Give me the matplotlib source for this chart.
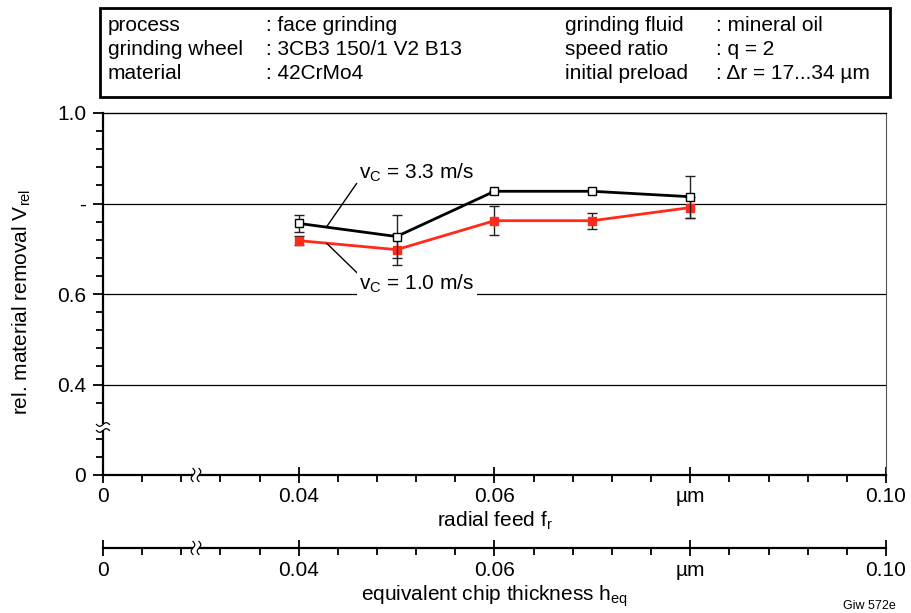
import numpy as np
import matplotlib
matplotlib.use('Agg')
import matplotlib.pyplot as plt
from matplotlib.patches import Rectangle
from matplotlib.transforms import ScaledTranslation, blended_transform_factory

plt.rcParams['font.family'] = ['Liberation Sans', 'DejaVu Sans']
plt.rcParams['mathtext.fontset'] = 'custom'
plt.rcParams['mathtext.rm'] = 'Liberation Sans'
plt.rcParams['mathtext.it'] = 'Liberation Sans'

# data (axis value 0.02 on x is drawn as "0", 0.2 on y is drawn as "0" -> broken axes)
feed = [0.04, 0.05, 0.06, 0.07, 0.08]
v_fast = [0.756, 0.727, 0.827, 0.827, 0.815]
v_fast_err = [0.019, 0.048, 0.0, 0.0, 0.046]
v_slow = [0.718, 0.698, 0.762, 0.762, 0.791]
v_slow_err = [0.010, 0.035, 0.032, 0.018, 0.024]

x_ticks = [0.02, 0.04, 0.06, 0.08, 0.10]
x_labels = ['0', '0.04', '0.06', 'µm', '0.10']
y_ticks = [0.2, 0.4, 0.6, 0.8, 1.0]
y_labels = ['0', '0.4', '0.6', '-', '1.0']

header_left = [('process', ': face grinding'),
               ('grinding wheel', ': 3CB3 150/1 V2 B13'),
               ('material', ': 42CrMo4')]
header_right = [('grinding fluid', ': mineral oil'),
                ('speed ratio', ': q = 2'),
                ('initial preload', ': \u0394r = 17...34 µm')]

FS = 15
W, H = 912, 613
fig = plt.figure(figsize=(W / 100, H / 100), dpi=100)

L, R, T, B = 103, 886, 113, 475
ax = fig.add_axes([L / W, 1 - B / H, (R - L) / W, (B - T) / H])
ax.set_xlim(0.02, 0.10)
ax.set_ylim(0.2, 1.0)

red = '#ff2a1a'
for yv in [0.4, 0.6, 0.8]:
    ax.axhline(yv, color='black', lw=0.9, zorder=1)

ax.errorbar(feed, v_slow, yerr=v_slow_err, color=red, lw=2, marker='s', ms=6,
            mfc=red, mec=red, ecolor='#222222', elinewidth=1, capsize=3.5,
            capthick=1, zorder=3)
ax.errorbar(feed, v_fast, yerr=v_fast_err, color='black', lw=2, marker='s', ms=6,
            mfc='white', mec='black', mew=1, ecolor='#222222', elinewidth=1,
            capsize=3.5, capthick=1, zorder=4)

ax.annotate(r'v$_\mathrm{C}$ = 3.3 m/s', xy=(0.04286, 0.749), xytext=(0.0462, 0.868),
            fontsize=FS, va='center', ha='left',
            arrowprops=dict(arrowstyle='-', color='black', lw=1,
                            shrinkA=0, shrinkB=0, relpos=(0, 0.2)),
            zorder=5)
ax.annotate(r'v$_\mathrm{C}$ = 1.0 m/s', xy=(0.04286, 0.712), xytext=(0.0462, 0.622),
            fontsize=FS, va='center', ha='left',
            bbox=dict(boxstyle='square,pad=0.1', fc='white', ec='none'),
            arrowprops=dict(arrowstyle='-', color='black', lw=1,
                            shrinkA=0, shrinkB=0, relpos=(0, 0.9)),
            zorder=5)

def style_axis(a):
    a.set_xticks(x_ticks)
    a.set_xticklabels(x_labels, fontsize=FS)
    a.set_xticks(np.arange(0.024, 0.0999, 0.004), minor=True)
    a.tick_params(axis='x', which='major', direction='inout', length=12, width=1.3, pad=3)
    a.tick_params(axis='x', which='minor', direction='out', length=5, width=1.3)
    a.spines['bottom'].set_linewidth(1.6)

style_axis(ax)
ax.set_yticks(y_ticks)
ax.set_yticklabels(y_labels, fontsize=FS)
ax.set_yticks([0.24, 0.28, 0.36, 0.44, 0.48, 0.52, 0.56, 0.64, 0.68, 0.72, 0.76,
               0.84, 0.88, 0.92, 0.96], minor=True)
ax.tick_params(axis='y', which='major', direction='out', length=7, width=1.3, pad=5)
ax.tick_params(axis='y', which='minor', direction='out', length=5, width=1.3)
ax.spines['left'].set_linewidth(1.6)
ax.spines['top'].set_linewidth(1.0)
ax.spines['right'].set_linewidth(0.8)
ax.spines['right'].set_color('#555555')
ax.set_xlabel(r'radial feed f$_\mathrm{r}$', fontsize=FS)
ax.xaxis.set_label_coords(0.5, 1 - 510 / H,
                          transform=blended_transform_factory(ax.transAxes, fig.transFigure))
ax.set_ylabel(r'rel. material removal V$_\mathrm{rel}$', fontsize=FS)
ax.yaxis.set_label_coords(-0.089, 0.478)

# second x axis
ax2 = fig.add_axes([L / W, 1 - 548 / H, (R - L) / W, 0.0001])
ax2.set_xlim(0.02, 0.10)
for s in ['left', 'right', 'top']:
    ax2.spines[s].set_visible(False)
ax2.set_yticks([])
ax2.patch.set_alpha(0)
style_axis(ax2)
ax2.set_xlabel(r'equivalent chip thickness h$_\mathrm{eq}$', fontsize=FS)
ax2.xaxis.set_label_coords(0.5, 1 - 584 / H,
                           transform=blended_transform_factory(ax2.transAxes, fig.transFigure))

# axis break marks
def s_curve(a, x, y, vertical):
    t = np.linspace(-1, 1, 40)
    tr = fig.dpi_scale_trans + ScaledTranslation(x, y, a.transData)
    for dx in (-0.03, 0.03):
        if vertical:
            xs = dx + 0.018 * np.sin(np.pi * t)
            ys = 0.065 * t
        else:
            ys = dx + 0.018 * np.sin(np.pi * t)
            xs = 0.065 * t
        a.plot(xs, ys, color='black', lw=0.9, transform=tr, clip_on=False, zorder=6)
    if vertical:
        a.add_patch(Rectangle((-0.03, -0.02), 0.06, 0.04, transform=tr, fc='white',
                              ec='none', clip_on=False, zorder=5))
    else:
        a.add_patch(Rectangle((-0.02, -0.03), 0.04, 0.06, transform=tr, fc='white',
                              ec='none', clip_on=False, zorder=5))

s_curve(ax, 0.0295, 0.2, True)
s_curve(ax2, 0.0295, 0.0, True)
s_curve(ax, 0.02, 0.305, False)

# header box
fig.patches.append(Rectangle((100 / W, 1 - 97 / H), 790 / W, 89 / H, transform=fig.transFigure,
                             fill=False, ec='black', lw=2))
rows = [31, 55, 79]
for (k, v), y in zip(header_left, rows):
    fig.text(108 / W, 1 - y / H, k, fontsize=FS, va='baseline')
    fig.text(266 / W, 1 - y / H, v, fontsize=FS, va='baseline')
for (k, v), y in zip(header_right, rows):
    fig.text(565 / W, 1 - y / H, k, fontsize=FS, va='baseline')
    fig.text(716 / W, 1 - y / H, v, fontsize=FS, va='baseline')

fig.text(843 / W, 1 - 606 / H, 'Giw 572e', fontsize=9, va='center')

fig.savefig('out.png', dpi=100)
